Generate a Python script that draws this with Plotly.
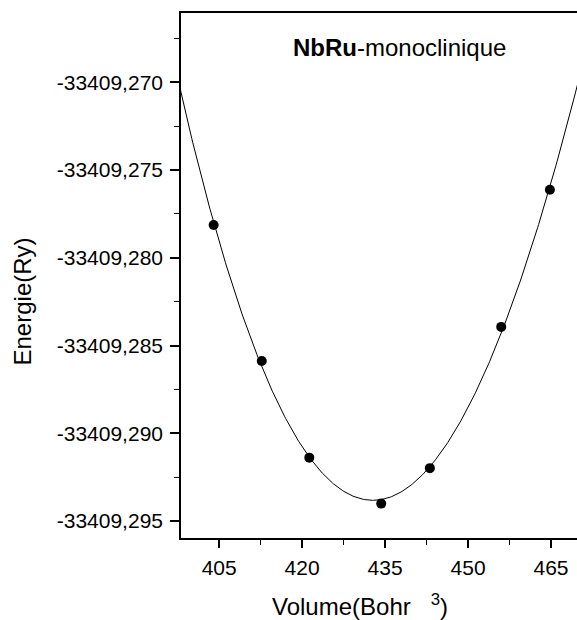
import numpy as np
import plotly.graph_objects as go

# Data (Volume in Bohr^3, Energy in Ry)
volume = [404.0, 412.7, 421.3, 434.3, 443.1, 456.0, 464.8]
energy = [-33409.27813, -33409.28588, -33409.29139, -33409.29401,
          -33409.29199, -33409.28394, -33409.27612]

x_tickvals = [405, 420, 435, 450, 465]
x_ticktext = ["405", "420", "435", "450", "465"]
y_tickvals = [-33409.270, -33409.275, -33409.280, -33409.285, -33409.290, -33409.295]
y_ticktext = ["-33409,270", "-33409,275", "-33409,280", "-33409,285", "-33409,290", "-33409,295"]

x_range = [398.1, 469.7]
y_range = [-33409.29597, -33409.26605]

# Fitted curve (polynomial least squares fit of the data points)
v = np.array(volume)
e = np.array(energy)
v0 = v.mean()
e0 = -33409.0
coef = np.polyfit(v - v0, e - e0, 3)
v_fit = np.linspace(x_range[0] - 1, x_range[1] + 1, 400)
e_fit = np.polyval(coef, v_fit - v0) + e0

FONT = "Liberation Sans, Arial, sans-serif"

fig = go.Figure()
fig.add_trace(go.Scatter(x=v_fit, y=e_fit, mode="lines",
                         line=dict(color="black", width=1), showlegend=False,
                         hoverinfo="skip"))
fig.add_trace(go.Scatter(x=volume, y=energy, mode="markers",
                         marker=dict(color="black", size=10), showlegend=False))

fig.update_layout(
    width=577, height=620,
    margin=dict(l=181, r=0, t=13, b=82, pad=0),
    paper_bgcolor="white", plot_bgcolor="white",
    font=dict(family=FONT, color="black"),
    showlegend=False,
    xaxis=dict(range=x_range, showgrid=False, zeroline=False,
               showline=True, linecolor="black", linewidth=1.6, mirror=True,
               ticks="outside", ticklen=8, tickwidth=1.6, tickcolor="black",
               tickvals=x_tickvals, ticktext=x_ticktext,
               tickfont=dict(size=21, family=FONT, color="black"),
               ticklabelstandoff=2,
               minor=dict(ticks="outside", ticklen=5, tickwidth=1.4,
                          tickcolor="black", dtick=7.5, tick0=405, showgrid=False)),
    yaxis=dict(range=y_range, showgrid=False, zeroline=False,
               showline=True, linecolor="black", linewidth=1.6, mirror=False,
               ticks="outside", ticklen=9, tickwidth=1.6, tickcolor="black",
               tickvals=y_tickvals, ticktext=y_ticktext,
               tickfont=dict(size=21, family=FONT, color="black"),
               ticklabelstandoff=3,
               minor=dict(ticks="outside", ticklen=5, tickwidth=1.4,
                          tickcolor="black", dtick=0.0025, tick0=-33409.270,
                          showgrid=False)),
    annotations=[
        dict(text="<b>NbRu</b>-monoclinique", xref="paper", yref="paper",
             x=0.553, y=0.935, xanchor="center", yanchor="middle",
             showarrow=False, font=dict(size=24, family=FONT, color="black")),
        dict(text="Volume(Bohr\u00a0\u00a0\u00a0<sup>3</sup>)", xref="paper", yref="paper",
             x=0.452, y=-0.128, xanchor="center", yanchor="middle",
             showarrow=False, font=dict(size=24, family=FONT, color="black")),
        dict(text="Energie(Ry)", xref="paper", yref="paper",
             x=-0.4015, y=0.4505, xanchor="center", yanchor="middle",
             textangle=-90,
             showarrow=False, font=dict(size=24, family=FONT, color="black")),
    ],
)

fig.write_html("out.html")
